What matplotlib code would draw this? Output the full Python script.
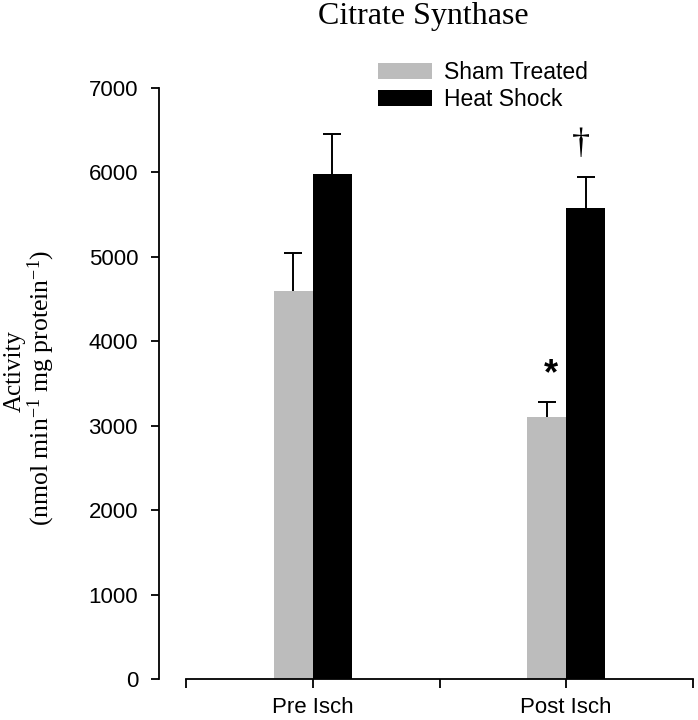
import matplotlib
matplotlib.use("Agg")
import matplotlib.pyplot as plt
import numpy as np
from matplotlib.patches import Patch

# data
groups = ["Pre Isch", "Post Isch"]
series = ["Sham Treated", "Heat Shock"]
sham_mean = [4595, 3105]
sham_err = [450, 178]
heat_mean = [5980, 5575]
heat_err = [475, 370]
group_pos = [1, 3]

plt.rcParams["font.family"] = ["Liberation Sans", "DejaVu Sans"]
plt.rcParams["mathtext.fontset"] = "custom"
plt.rcParams["mathtext.rm"] = "Liberation Serif"
plt.rcParams["mathtext.it"] = "Liberation Serif:italic"

fig = plt.figure(figsize=(6.98, 7.2), dpi=100)
ax = fig.add_axes([186 / 698, 41 / 720, 507 / 698, 591 / 720])

width = 0.308
pos = np.array(group_pos, dtype=float)
gray = "#bcbcbc"

ax.bar(pos - width / 2, sham_mean, width, color=gray, linewidth=0, zorder=2)
ax.bar(pos + width / 2, heat_mean, width, color="black", linewidth=0, zorder=2)

# only the upper half of the error bars: hide the lower caps
for x, m, e in [(pos - width / 2, sham_mean, sham_err), (pos + width / 2, heat_mean, heat_err)]:
    _, caps, _ = ax.errorbar(x, m, yerr=[np.zeros(2), e], fmt="none", ecolor="black",
                             elinewidth=1.4, capsize=6.5, capthick=1.4, zorder=1)
    caps[0].set_visible(False)

# significance marks
ax.text(pos[1] - width / 2 + 0.03, sham_mean[1] + sham_err[1] + 320, "*",
        ha="center", va="center", fontsize=26, fontweight="bold")
ax.text(pos[1] + width / 2 - 0.04, heat_mean[1] + heat_err[1] + 380, "\u2020",
        ha="center", va="center", fontsize=26, family="Liberation Serif")

ax.set_xlim(0, 4)
ax.set_ylim(0, 7000)
ax.set_yticks(range(0, 7001, 1000))
ax.set_xticks([0, 1, 2, 3, 4])
ax.set_xticklabels(["", groups[0], "", groups[1], ""])

for s in ["top", "right"]:
    ax.spines[s].set_visible(False)
ax.spines["left"].set_position(("outward", 19.5))
ax.spines["left"].set_linewidth(1.3)
ax.spines["bottom"].set_linewidth(1.3)
ax.tick_params(axis="y", length=6, width=1.3, pad=9, labelsize=16)
ax.tick_params(axis="x", length=6.5, width=1.3, pad=6.5, labelsize=16)

handles = [Patch(facecolor=gray, edgecolor="none"), Patch(facecolor="black", edgecolor="none")]
fig.legend(handles, series, loc="upper left", bbox_to_anchor=(378 / 698, 1 - 61 / 720),
           frameon=False, fontsize=16.5, handlelength=2.35, handleheight=0.75,
           handletextpad=0.55, labelspacing=0.17, borderpad=0, borderaxespad=0)

fig.text(423 / 698, 1 - 24 / 720, "Citrate Synthase", ha="center", va="baseline",
         fontsize=23, family="Liberation Serif")
fig.text(21 / 698, 1 - 371 / 720, "Activity", rotation=90, rotation_mode="anchor",
         ha="center", va="baseline", fontsize=18, family="Liberation Serif")
fig.text(48 / 698, 1 - 388 / 720, r"(nmol min$^{-1}$ mg protein$^{-1}$)", rotation=90,
         rotation_mode="anchor", ha="center", va="baseline", fontsize=18.5,
         family="Liberation Serif")

fig.savefig("out.png", dpi=100)
